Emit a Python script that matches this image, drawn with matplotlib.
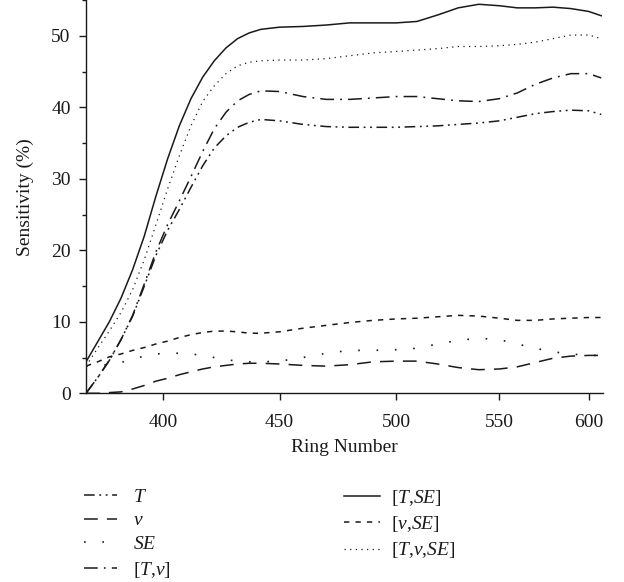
import numpy as np
import matplotlib
matplotlib.use("Agg")
import matplotlib.pyplot as plt

plt.rcParams['font.family'] = ['Liberation Serif', 'DejaVu Serif']
plt.rcParams['mathtext.fontset'] = 'custom'
plt.rcParams['mathtext.rm'] = 'Liberation Serif'
plt.rcParams['mathtext.it'] = 'Liberation Serif:italic'
plt.rcParams['mathtext.bf'] = 'Liberation Serif:bold'

# ---------------- data ----------------
ring = [367, 372, 377, 382, 387, 392, 397, 402, 407, 412, 417, 422, 427, 432, 437, 442,
        450, 460, 470, 480, 490, 500, 510, 520, 530, 540, 550, 560, 570, 580, 590, 600, 607]

T = [0.0, 2.2, 4.6, 7.5, 10.8, 15.0, 19.3, 22.8, 25.7, 28.8, 31.8, 34.3, 36.0, 37.2, 37.9, 38.3,
     38.1, 37.6, 37.3, 37.2, 37.2, 37.2, 37.3, 37.4, 37.6, 37.8, 38.1, 38.6, 39.1, 39.4, 39.6, 39.5, 39.0]
v = [0.0, 0.0, 0.1, 0.2, 0.6, 1.1, 1.7, 2.1, 2.6, 3.0, 3.4, 3.7, 3.9, 4.1, 4.2, 4.2,
     4.1, 3.9, 3.8, 4.0, 4.4, 4.5, 4.5, 4.1, 3.6, 3.3, 3.4, 3.7, 4.3, 4.9, 5.2, 5.3, 5.3]
SE = [3.8, 3.9, 4.0, 4.3, 4.8, 5.2, 5.5, 5.6, 5.6, 5.5, 5.3, 5.0, 4.7, 4.5, 4.4, 4.4,
      4.5, 5.0, 5.6, 6.0, 6.0, 6.1, 6.3, 6.9, 7.4, 7.7, 7.5, 6.9, 6.3, 5.8, 5.5, 5.3, 5.3]
T_v = [0.0, 2.2, 4.6, 7.5, 10.9, 15.3, 19.8, 23.6, 26.9, 30.3, 33.8, 37.0, 39.3, 40.9, 41.8, 42.3,
       42.2, 41.5, 41.1, 41.1, 41.3, 41.5, 41.5, 41.2, 40.9, 40.8, 41.2, 42.0, 43.2, 44.1, 44.7, 44.7, 44.1]
T_SE = [4.4, 7.2, 10.0, 13.3, 17.3, 22.0, 27.6, 32.8, 37.4, 41.2, 44.2, 46.5, 48.3, 49.6, 50.4, 50.9,
        51.2, 51.3, 51.5, 51.8, 51.8, 51.8, 52.0, 52.9, 53.9, 54.4, 54.2, 53.9, 53.9, 54.0, 53.8, 53.4, 52.8]
v_SE = [3.8, 4.4, 5.1, 5.5, 6.0, 6.4, 6.9, 7.3, 7.8, 8.2, 8.5, 8.7, 8.7, 8.6, 8.4, 8.4,
        8.6, 9.1, 9.5, 9.9, 10.2, 10.4, 10.5, 10.7, 10.9, 10.8, 10.5, 10.2, 10.2, 10.4, 10.5, 10.6, 10.6]
T_v_SE = [3.8, 6.3, 8.7, 11.3, 14.5, 18.7, 23.6, 28.6, 33.2, 37.4, 40.8, 43.0, 44.7, 45.8, 46.3, 46.5,
          46.6, 46.6, 46.8, 47.2, 47.6, 47.8, 48.0, 48.2, 48.5, 48.5, 48.6, 48.8, 49.1, 49.6, 50.1, 50.1, 49.6]

labels = [r'$T$', r'$v$', r'$SE$', r'$[T{,}v]$', r'$[T{,}SE]$', r'$[v{,}SE]$', r'$[T{,}v{,}SE]$']
xticks = [400, 450, 500, 550, 600]
yticks = [0, 10, 20, 30, 40, 50]

# uneven spacing of the original ring-number axis
tick_pos = [162.7, 279.3, 396.0, 499.0, 588.3]
anch_x = np.array([300.0] + xticks + [700.0])
anch_p = np.array([tick_pos[0] - 100 * (tick_pos[1] - tick_pos[0]) / 50] + tick_pos +
                  [tick_pos[-1] + 100 * (tick_pos[-1] - tick_pos[-2]) / 50])

def fwd(x):
    return np.interp(x, anch_x, anch_p)

def inv(p):
    return np.interp(p, anch_p, anch_x)

# ---------------- figure ----------------
W, H = 624, 582
fig = plt.figure(figsize=(W / 100, H / 100), dpi=100)
ax = fig.add_axes([86 / W, (H - 393.3) / H, (603 - 86) / W, 393.3 / H])
ax.set_xscale('function', functions=(fwd, inv))

col = '#1a1a1a'
styles = [
    dict(ls=(0, (7, 3, 1.2, 3, 1.2, 3)), lw=1.1),   # T
    dict(ls=(0, (9, 6)), lw=1.1),                    # v
    dict(ls=(0, (1, 10)), lw=1.2),                   # SE
    dict(ls=(0, (9, 4, 1.2, 4)), lw=1.1),            # [T,v]
    dict(ls='-', lw=1.1),                            # [T,SE]
    dict(ls=(0, (3.5, 4)), lw=1.1),                  # [v,SE]
    dict(ls=(0, (1, 3.5)), lw=0.9),                  # [T,v,SE]
]
series = [T, v, SE, T_v, T_SE, v_SE, T_v_SE]
handles = []
for ys, st, lab in zip(series, styles, labels):
    h, = ax.plot(ring, ys, color=col, linestyle=st['ls'], linewidth=st['lw'], label=lab)
    handles.append(h)

ax.set_xlim(367, 608)
ax.set_ylim(0, 55)
ax.set_xticks(xticks)
ax.set_xticks([], minor=True)
ax.set_yticks(yticks)
ax.set_yticks([5, 15, 25, 35, 45, 55], minor=True)
for s in ['top', 'right']:
    ax.spines[s].set_visible(False)
for s in ['left', 'bottom']:
    ax.spines[s].set_linewidth(1.0)
    ax.spines[s].set_color(col)
ax.tick_params(axis='both', which='major', direction='out', length=5, width=1.0,
               labelsize=14, colors=col)
ax.tick_params(axis='x', which='major', pad=10)
ax.tick_params(axis='y', which='major', pad=6)
ax.tick_params(axis='y', which='minor', direction='out', length=3, width=1.0, colors=col)
ax.set_xlabel('Ring Number', fontsize=14, color=col, labelpad=6)
ax.set_ylabel('Sensitivity (%)', fontsize=14, color=col, labelpad=12)

leg_kw = dict(frameon=False, fontsize=14, borderpad=0, borderaxespad=0,
              labelspacing=0.32, labelcolor=col)
leg1 = fig.legend(handles[:4], labels[:4], loc='upper left',
                  bbox_to_anchor=(84 / W, 1 - 488 / H), handlelength=1.7,
                  handletextpad=0.8, **leg_kw)
leg2 = fig.legend(handles[4:], labels[4:], loc='upper left',
                  bbox_to_anchor=(344 / W, 1 - 488 / H), handlelength=1.85,
                  handletextpad=0.55, **leg_kw)

fig.savefig('out.png', dpi=100)
